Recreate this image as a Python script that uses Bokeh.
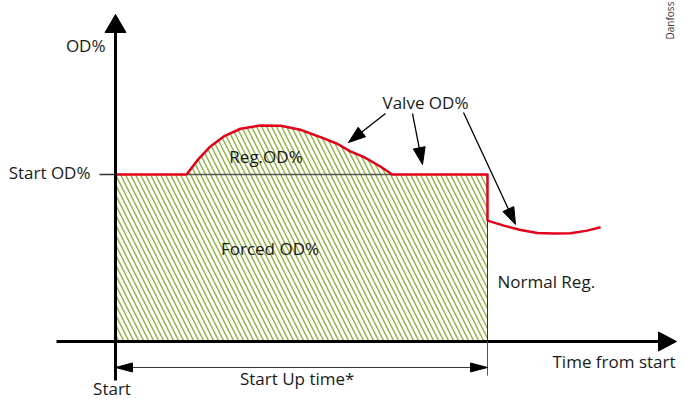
import math
from bokeh.plotting import figure
from bokeh.models import Range1d
from bokeh.core.properties import value
from bokeh.embed import file_html
from bokeh.resources import INLINE

# ---------------- data (time units, OD %) ----------------
start_od = 50.0          # Start OD%
startup_time = 10.0      # Start Up time*

# Regulated bump above Start OD%
reg_t = [1.91, 2.20, 2.55, 2.91, 3.36, 3.90, 4.44, 4.97, 5.51, 5.96, 6.30, 6.68, 7.12, 7.44]
reg_od = [50.0, 54.2, 58.4, 61.4, 63.7, 64.7, 64.6, 63.4, 61.2, 59.2, 57.0, 55.2, 52.4, 50.0]

# Normal regulation after start-up time
norm_t = [10.00, 10.44, 10.89, 11.34, 11.78, 12.23, 12.68, 13.04]
norm_od = [36.2, 34.7, 33.4, 32.5, 32.3, 32.4, 33.2, 34.2]

valve_t = [0.0] + reg_t + [startup_time] + norm_t
valve_od = [start_od] + reg_od + [start_od] + norm_od

# ---------------- layout ----------------
W, H = 677, 400
X0, X1 = -3.0914, 15.1075
Y0, Y1 = -17.665, 102.096
SX = W / (X1 - X0)
SY = H / (Y1 - Y0)

RED = "#e3001b"
HATCH = "#8db33c"
INK = "#1a1a1a"
FONT = "Open Sans"
FS = "17px"
LIFT = 2.1  # text baseline correction (OD units)

p = figure(width=W, height=H, x_range=Range1d(X0, X1), y_range=Range1d(Y0, Y1),
           output_backend="svg", toolbar_location=None, min_border=0,
           x_axis_type=None, y_axis_type=None)
p.grid.visible = False
p.outline_line_color = None
p.background_fill_color = "white"


def head(tip, tail, length, width):
    tx, ty = tip[0] * SX, tip[1] * SY
    bx, by = tail[0] * SX, tail[1] * SY
    dx, dy = tx - bx, ty - by
    n = math.hypot(dx, dy)
    ux, uy = dx / n, dy / n
    cx, cy = tx - ux * length, ty - uy * length
    px_, py_ = -uy * width / 2, ux * width / 2
    xs = [tx, cx + px_, cx - px_]
    ys = [ty, cy + py_, cy - py_]
    return [x / SX for x in xs], [y / SY for y in ys]


# hatched areas: forced OD% rectangle and Reg.OD% bump
p.patch([0, 0, startup_time, startup_time], [0, start_od, start_od, 0],
        fill_alpha=0, line_color=None,
        hatch_pattern="left_diagonal_line", hatch_color=HATCH,
        hatch_weight=1.4, hatch_scale=10)
p.patch(reg_t, reg_od, fill_alpha=0, line_color=None,
        hatch_pattern="left_diagonal_line", hatch_color=HATCH,
        hatch_weight=1.4, hatch_scale=10)

# base line under the bump and right edge of forced area
p.line([reg_t[0], reg_t[-1]], [start_od, start_od], line_color="#555555", line_width=1.3)
p.line([startup_time, startup_time], [0, norm_od[0]], line_color="#333333", line_width=1)

# valve OD% line
p.line(valve_t, valve_od, line_color=RED, line_width=2.5, line_join="round")

# axes
p.line([0, 0], [-11.7, 93.0], line_color="black", line_width=3)
hx, hy = head((0, 97.9), (0, 0), 18, 21)
p.patch(hx, hy, fill_color="black", line_color="black")
p.line([-1.586, 14.7], [0, 0], line_color="black", line_width=3)
hx, hy = head((15.081, 0), (0, 0), 18, 19)
p.patch(hx, hy, fill_color="black", line_color="black")

# Start OD% tick
p.line([-0.43, 0], [start_od, start_od], line_color="#333333", line_width=1.3)

# dimension line for start up time
dim_y = -7.78
p.line([0.3, startup_time - 0.3], [dim_y, dim_y], line_color="#333333", line_width=1)
p.line([startup_time, startup_time], [0, -10.18], line_color="#555555", line_width=1)
for tip, tail in [((0, dim_y), (1, dim_y)), ((startup_time, dim_y), (startup_time - 1, dim_y))]:
    hx, hy = head(tip, tail, 17, 9)
    p.patch(hx, hy, fill_color="black", line_color="black")

# Valve OD% arrows
arrows = [((7.258, 68.26), (6.263, 59.58)),
          ((7.984, 68.26), (8.253, 52.99)),
          ((9.355, 68.56), (10.753, 35.03))]
for tail, tip in arrows:
    hx, hy = head(tip, tail, 17, 12)
    bx = hx[1] * 0.5 + hx[2] * 0.5
    by = hy[1] * 0.5 + hy[2] * 0.5
    p.line([tail[0], bx], [tail[1], by], line_color="black", line_width=1.3)
    p.patch(hx, hy, fill_color="black", line_color="black")

# texts
labels = [
    ("OD%", -0.269, 86.44, "right"),
    ("Start OD%", -0.672, 48.50, "right"),
    ("Reg.OD%", 4.046, 53.38, "center"),
    ("Valve OD%", 8.333, 69.37, "center"),
    ("Forced OD%", 4.153, 25.75, "center"),
    ("Normal Reg.", 10.269, 15.87, "left"),
    ("Time from start", 11.747, -8.08, "left"),
    ("Start Up time*", 4.884, -13.17, "center"),
]
for txt, x, y, al in labels:
    p.text(x=[x], y=[y + LIFT], text=[txt], text_align=al, text_baseline="alphabetic",
           text_font=value(FONT), text_font_size=FS, text_color=INK)

p.text(x=[-0.094], y=[-14.07], text=["Start"], text_align="center", text_baseline="alphabetic",
       text_font=value(FONT), text_font_size=FS, text_color=INK)

p.text(x=[14.919], y=[96.1], text=["Danfoss"], angle=math.pi / 2,
       text_align="center", text_baseline="middle",
       text_font=value(FONT), text_font_size="10px", text_color="#333333")

open("out.html", "w").write(file_html(p, INLINE))
